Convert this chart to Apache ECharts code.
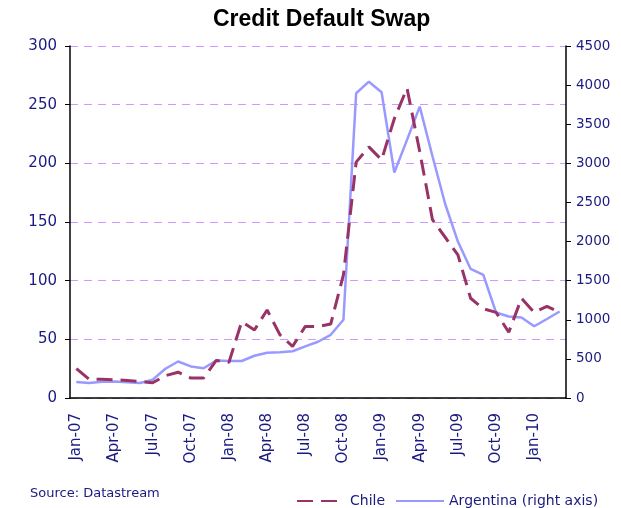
<!DOCTYPE html>
<html>
<head>
<meta charset="utf-8">
<title>Credit Default Swap</title>
<script src="https://cdn.jsdelivr.net/npm/echarts@6/dist/echarts.min.js"></script>
<style>
  * { margin: 0; padding: 0; }
  html, body { width: 621px; height: 508px; background: #fff; }
  #main { width: 621px; height: 508px; }
</style>
</head>
<body>
<!-- chart container -->
<div id="main"></div>
<script>
// monthly categories Jan-07 .. Mar-10
var months = ['Jan-07','Feb-07','Mar-07','Apr-07','May-07','Jun-07','Jul-07','Aug-07','Sep-07','Oct-07','Nov-07','Dec-07',
  'Jan-08','Feb-08','Mar-08','Apr-08','May-08','Jun-08','Jul-08','Aug-08','Sep-08','Oct-08','Nov-08','Dec-08',
  'Jan-09','Feb-09','Mar-09','Apr-09','May-09','Jun-09','Jul-09','Aug-09','Sep-09','Oct-09','Nov-09','Dec-09',
  'Jan-10','Feb-10','Mar-10'];

// Chile CDS, left axis
var chileData = [25, 16, 16, 15.5, 15, 14, 13, 19, 22, 17, 17, 32,
  30.5, 65, 58, 75, 54, 44, 61, 61, 63, 105, 201, 214,
  203, 238, 264, 210, 152, 137, 122, 85, 76, 73, 56, 85,
  73, 78, 73];

// Argentina CDS, right axis
var argentinaData = [204, 192, 208, 212, 200, 192, 234, 374, 467, 404, 380, 478,
  473, 473, 540, 579, 585, 598, 659, 719, 808, 1000, 3896, 4044,
  3909, 2882, 3300, 3725, 3090, 2480, 2000, 1650, 1575, 1093, 1042, 1030,
  917, 1010, 1106];

var leftTicks = { min: 0, max: 300, interval: 50 };
var rightTicks = { min: 0, max: 4500, interval: 500 };

var navy = '#1a1a80';

var chart = echarts.init(document.getElementById('main'));
chart.setOption({
  animation: false,
  title: {
    text: 'Credit Default Swap',
    left: 208,
    top: 3,
    textStyle: {
      fontFamily: 'Liberation Sans',
      fontWeight: 'bold',
      fontSize: 23,
      color: '#000'
    }
  },
  legend: {
    left: 291,
    top: 489,
    itemWidth: 48,
    itemHeight: 14,
    itemGap: 10,
    itemStyle: { opacity: 0 },   // hide the dot, keep only the line sample
    data: ['Chile', 'Argentina (right axis)'],
    textStyle: { fontFamily: 'DejaVu Sans', fontSize: 14, color: navy }
  },
  graphic: [{
    type: 'text',
    left: 30,
    top: 487,
    style: { text: 'Source: Datastream', fontFamily: 'DejaVu Sans', fontSize: 13, fill: navy }
  }],
  grid: { left: 70, right: 55, top: 46, bottom: 110 },
  xAxis: {
    type: 'category',
    data: months,
    boundaryGap: true,   // labels in the middle of the month, ticks on the borders
    axisLine: { lineStyle: { color: '#000', width: 1.5 } },
    axisTick: { interval: 2, length: 5, lineStyle: { color: '#000' } },
    axisLabel: {
      interval: 2,
      rotate: 90,
      margin: 15,
      fontFamily: 'DejaVu Sans',
      fontSize: 15,
      color: navy
    }
  },
  yAxis: [{
    type: 'value',
    min: leftTicks.min,
    max: leftTicks.max,
    interval: leftTicks.interval,
    axisLine: { show: true, lineStyle: { color: '#000', width: 1.5 } },
    axisTick: { show: true, length: 5, lineStyle: { color: '#000' } },
    axisLabel: { margin: 13, fontFamily: 'DejaVu Sans', fontSize: 15, color: navy },
    splitLine: { show: true, lineStyle: { color: '#cc99ff', type: [8, 6], width: 1 } }
  }, {
    type: 'value',
    position: 'right',
    min: rightTicks.min,
    max: rightTicks.max,
    interval: rightTicks.interval,
    axisLine: { show: true, lineStyle: { color: '#000', width: 1.5 } },
    axisTick: { show: true, length: 5, lineStyle: { color: '#000' } },
    axisLabel: {
      margin: 10,
      fontFamily: 'DejaVu Sans',
      fontSize: 13.5,
      color: navy,
      formatter: function (v) { return String(v); }  // no thousands separator
    },
    splitLine: { show: false }
  }],
  series: [{
    name: 'Chile',
    type: 'line',
    yAxisIndex: 0,
    data: chileData,
    showSymbol: false,
    symbol: 'none',
    color: '#993366',
    lineStyle: { color: '#993366', width: 3, type: [16, 8] },
    z: 3
  }, {
    name: 'Argentina (right axis)',
    type: 'line',
    yAxisIndex: 1,
    data: argentinaData,
    showSymbol: false,
    symbol: 'none',
    color: '#9999ff',
    lineStyle: { color: '#9999ff', width: 2.5 },
    z: 2
  }]
});
</script>
</body>
</html>
